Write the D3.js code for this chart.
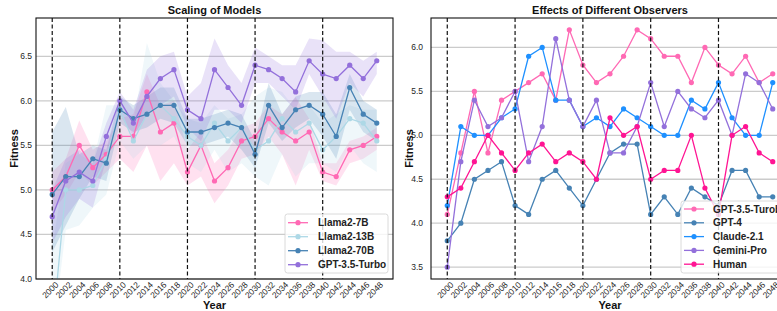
<!DOCTYPE html>
<html>
<head>
<meta charset="utf-8">
<script src="https://cdn.jsdelivr.net/npm/d3@7"></script>
<style>
  html, body { margin: 0; padding: 0; background: #fff; }
  svg { display: block; font-family: "Liberation Sans", Arial, sans-serif; }
</style>
</head>
<body>
<svg id="chart" width="777" height="311"></svg>
<script>
// ---- data ----
const years = d3.range(2000, 2049, 2)
const yearTicks = years
const eraLines = [2000, 2010, 2020, 2030, 2040]

// Scaling of Models
const llama7b = [5.0, 5.15, 5.5, 5.25, 5.4, 5.6, 5.6, 6.1, 5.65, 5.75, 5.2, 5.5, 5.1, 5.25, 5.55, 5.6, 5.8, 5.65, 5.55, 5.65, 5.2, 5.15, 5.45, 5.5, 5.6]
const llama7bLo = [4.75, 4.95, 5.2, 5.05, 5.2, 5.35, 5.2, 5.5, 5.1, 5.3, 5.05, 5.15, 4.85, 5.05, 5.35, 5.4, 5.6, 5.4, 5.05, 5.45, 5.1, 5.05, 5.3, 5.35, 5.45]
const llama7bHi = [5.2, 5.35, 5.78, 5.45, 5.55, 5.8, 5.85, 6.3, 5.95, 6.0, 5.45, 5.65, 5.3, 5.45, 5.7, 5.75, 5.95, 5.85, 6.04, 5.8, 5.3, 5.3, 5.55, 5.6, 5.7]

const llama13b = [3.4, 5.0, 5.0, 5.05, 5.35, 5.9, 5.55, 5.85, 5.95, 5.8, 5.6, 5.5, 5.75, 5.55, 5.7, 5.45, 5.55, 5.8, 5.65, 5.75, 5.45, 5.6, 5.8, 5.75, 5.55]
const llama13bLo = [3.3, 4.55, 4.6, 4.8, 4.95, 5.55, 5.35, 5.5, 5.5, 5.6, 5.3, 5.2, 5.45, 5.2, 5.3, 5.15, 5.05, 5.4, 5.15, 5.3, 5.3, 5.2, 5.5, 5.3, 5.2]
const llama13bHi = [4.35, 5.3, 5.4, 5.3, 5.95, 5.95, 5.75, 6.65, 6.2, 6.0, 5.8, 5.75, 5.95, 5.8, 5.85, 6.05, 6.15, 6.1, 5.9, 5.95, 5.75, 5.85, 5.95, 5.9, 5.9]

const llama70b = [4.95, 5.15, 5.15, 5.35, 5.3, 5.9, 5.8, 5.85, 5.95, 5.95, 5.65, 5.65, 5.7, 5.75, 5.7, 5.4, 5.95, 5.7, 5.9, 5.95, 5.85, 5.6, 6.15, 5.85, 5.75]
const llama70bLo = [4.3, 4.6, 4.9, 5.15, 5.1, 5.75, 5.65, 5.7, 5.8, 5.75, 5.5, 5.5, 5.55, 5.6, 5.45, 5.25, 5.75, 5.55, 5.7, 5.8, 5.6, 5.35, 5.9, 5.65, 5.55]
const llama70bHi = [5.65, 5.93, 5.4, 5.5, 5.45, 6.05, 5.95, 6.05, 6.15, 6.15, 5.8, 5.8, 5.85, 5.9, 5.85, 5.55, 6.2, 5.85, 6.05, 6.1, 6.1, 5.85, 6.3, 6.0, 5.9]

const gpt35 = [4.7, 5.1, 5.2, 5.1, 5.6, 6.0, 5.75, 6.05, 6.25, 6.35, 5.9, 5.8, 6.35, 6.15, 5.95, 6.4, 6.35, 6.25, 6.1, 6.45, 6.3, 6.25, 6.4, 6.25, 6.45]
const gpt35Lo = [4.4, 4.7, 4.9, 4.8, 5.35, 5.85, 5.6, 5.85, 5.95, 6.05, 5.7, 5.55, 5.9, 5.9, 5.75, 6.2, 6.2, 6.05, 5.9, 6.3, 6.05, 5.8, 6.2, 6.05, 6.3]
const gpt35Hi = [5.0, 5.35, 5.45, 5.3, 5.75, 6.1, 5.9, 6.35, 6.5, 6.55, 6.05, 6.2, 6.7, 6.4, 6.2, 6.6, 6.5, 6.4, 6.4, 6.7, 6.68, 6.55, 6.55, 6.45, 6.55]

// Effects of Different Observers
const obsGpt35 = [4.1, 4.8, 5.5, 4.8, 5.4, 5.5, 5.6, 5.7, 5.4, 6.2, 5.8, 5.6, 5.7, 5.9, 6.2, 6.1, 5.9, 5.9, 5.6, 6.0, 5.8, 5.7, 5.9, 5.6, 5.7]
const obsGpt4 = [3.8, 4.0, 4.5, 4.6, 4.7, 4.2, 4.1, 4.5, 4.6, 4.4, 4.2, 4.5, 4.8, 4.9, 4.9, 4.1, 4.3, 4.1, 4.4, 4.3, 4.2, 4.6, 4.6, 4.3, 4.3]
const obsClaude = [4.2, 5.1, 5.0, 5.0, 5.2, 5.3, 5.9, 6.0, 5.4, 5.4, 5.1, 5.2, 5.1, 5.3, 5.2, 5.1, 5.0, 5.0, 5.4, 5.3, 5.6, 5.2, 5.0, 5.0, 5.6]
const obsGemini = [3.5, 4.7, 5.4, 5.1, 5.2, 5.5, 4.7, 5.1, 6.1, 5.4, 5.1, 5.4, 4.8, 4.8, 5.1, 5.6, 5.1, 5.5, 5.3, 5.2, 5.4, 5.0, 5.7, 5.6, 5.3]
const obsHuman = [4.3, 4.4, 4.7, 5.0, 4.8, 4.6, 4.8, 4.9, 4.7, 4.8, 4.7, 4.5, 5.2, 5.0, 5.1, 4.5, 4.6, 4.6, 5.0, 4.4, 4.1, 5.0, 5.1, 4.8, 4.7]

const pink = '#ff69b4', lightblue = '#add8e6', steel = '#4682b4', purple = '#9370db'
const dodger = '#1e90ff', deeppink = '#ff1493'

const FONT = '"Liberation Sans", Arial, sans-serif'
const svg = d3.select('#chart')

function drawPanel(cfg) {
  const x = d3.scaleLinear().domain([1997.6, 2050.4]).range([cfg.left, cfg.right])
  const y = d3.scaleLinear().domain(cfg.yDomain).range([279, 18])
  const g = svg.append('g')

  const clipId = 'clip-' + cfg.id
  svg.append('defs').append('clipPath').attr('id', clipId)
    .append('rect')
    .attr('x', cfg.left).attr('y', 18)
    .attr('width', cfg.right - cfg.left).attr('height', 261)

  // grid
  g.append('g').selectAll('line')
    .data(cfg.yTicks)
    .join('line')
    .attr('x1', cfg.left).attr('x2', cfg.right)
    .attr('y1', d => y(d)).attr('y2', d => y(d))
    .attr('stroke', '#cbcbcb')
    .attr('stroke-width', 1.3)

  const plot = g.append('g').attr('clip-path', `url(#${clipId})`)

  const line = d3.line().x((d, i) => x(years[i])).y(d => y(d))
  const area = d3.area()
    .x((d, i) => x(years[i]))
    .y0(d => y(d[0]))
    .y1(d => y(d[1]))

  cfg.series.forEach(s => {
    if (s.lo) {
      plot.append('path')
        .datum(s.lo.map((v, i) => [v, s.hi[i]]))
        .attr('d', area)
        .attr('fill', s.color)
        .attr('fill-opacity', 0.2)
    }
  })

  cfg.series.forEach(s => {
    plot.append('path')
      .datum(s.values)
      .attr('d', line)
      .attr('fill', 'none')
      .attr('stroke', s.color)
      .attr('stroke-width', 1.3)
    plot.append('g').selectAll('circle')
      .data(s.values)
      .join('circle')
      .attr('cx', (d, i) => x(years[i]))
      .attr('cy', d => y(d))
      .attr('r', 2.6)
      .attr('fill', s.color)
  })

  // era separators
  g.append('g').selectAll('line')
    .data(eraLines)
    .join('line')
    .attr('x1', d => x(d)).attr('x2', d => x(d))
    .attr('y1', 18).attr('y2', 279)
    .attr('stroke', '#111')
    .attr('stroke-width', 1.2)
    .attr('stroke-dasharray', '4,2.5')

  // frame
  g.append('rect')
    .attr('x', cfg.left).attr('y', 18)
    .attr('width', cfg.right - cfg.left).attr('height', 261)
    .attr('fill', 'none')
    .attr('stroke', '#111')
    .attr('stroke-width', 1.1)

  // y tick labels
  g.append('g').selectAll('text')
    .data(cfg.yTicks)
    .join('text')
    .attr('x', cfg.left - cfg.yLabelGap)
    .attr('y', d => y(d))
    .attr('dy', '0.35em')
    .attr('text-anchor', 'end')
    .attr('font-size', 8.5)
    .attr('fill', '#262626')
    .text(d => d.toFixed(1))

  // x tick labels, rotated
  g.append('g').selectAll('text')
    .data(yearTicks)
    .join('text')
    .attr('transform', d => `translate(${x(d) - 2},${290}) rotate(-45)`)
    .attr('text-anchor', 'middle')
    .attr('dy', '0.35em')
    .attr('font-size', 8.5)
    .attr('fill', '#262626')
    .text(d => d)

  // titles
  g.append('text')
    .attr('x', (cfg.left + cfg.right) / 2).attr('y', 14)
    .attr('text-anchor', 'middle')
    .attr('font-size', 11).attr('font-weight', 'bold')
    .attr('fill', '#111')
    .text(cfg.title)

  g.append('text')
    .attr('x', (cfg.left + cfg.right) / 2).attr('y', 309)
    .attr('text-anchor', 'middle')
    .attr('font-size', 11).attr('font-weight', 'bold')
    .attr('fill', '#111')
    .text('Year')

  g.append('text')
    .attr('transform', `translate(${cfg.yTitleX},148.5) rotate(-90)`)
    .attr('text-anchor', 'middle')
    .attr('dy', '0.35em')
    .attr('font-size', 11).attr('font-weight', 'bold')
    .attr('fill', '#111')
    .text('Fitness')

  // legend
  const lg = cfg.legend
  const leg = g.append('g')
  leg.append('rect')
    .attr('x', lg.x).attr('y', lg.y)
    .attr('width', lg.w).attr('height', lg.h)
    .attr('rx', 2.5)
    .attr('fill', '#fff').attr('fill-opacity', 0.8)
    .attr('stroke', '#d0d0d0').attr('stroke-width', 0.8)

  const rows = leg.selectAll('g.row')
    .data(cfg.series)
    .join('g')
    .attr('class', 'row')
    .attr('transform', (d, i) => `translate(${lg.x},${lg.firstRow + i * lg.step})`)
  rows.append('line')
    .attr('x1', lg.hx).attr('x2', lg.hx + 20)
    .attr('stroke', d => d.color).attr('stroke-width', 1.3)
  rows.append('circle')
    .attr('cx', lg.hx + 10).attr('r', 2.6)
    .attr('fill', d => d.color)
  rows.append('text')
    .attr('x', lg.tx)
    .attr('dy', '0.35em')
    .attr('font-size', 10).attr('font-weight', 'bold')
    .attr('fill', '#222')
    .text(d => d.name)
}

drawPanel({
  id: 'scaling',
  left: 36, right: 393,
  yDomain: [4.0, 6.93],
  yTicks: [4.0, 4.5, 5.0, 5.5, 6.0, 6.5],
  yLabelGap: 4,
  yTitleX: 14,
  title: 'Scaling of Models',
  series: [
    { name: 'Llama2-7B', color: pink, values: llama7b, lo: llama7bLo, hi: llama7bHi },
    { name: 'Llama2-13B', color: lightblue, values: llama13b, lo: llama13bLo, hi: llama13bHi },
    { name: 'Llama2-70B', color: steel, values: llama70b, lo: llama70bLo, hi: llama70bHi },
    { name: 'GPT-3.5-Turbo', color: purple, values: gpt35, lo: gpt35Lo, hi: gpt35Hi }
  ],
  legend: { x: 285, y: 214, w: 103, h: 59, firstRow: 222.7, step: 14, hx: 3, tx: 33 }
})

drawPanel({
  id: 'observers',
  left: 431, right: 789,
  yDomain: [3.365, 6.335],
  yTicks: [3.5, 4.0, 4.5, 5.0, 5.5, 6.0],
  yLabelGap: 8,
  yTitleX: 409,
  title: 'Effects of Different Observers',
  series: [
    { name: 'GPT-3.5-Turob', color: pink, values: obsGpt35 },
    { name: 'GPT-4', color: steel, values: obsGpt4 },
    { name: 'Claude-2.1', color: dodger, values: obsClaude },
    { name: 'Gemini-Pro', color: purple, values: obsGemini },
    { name: 'Human', color: deeppink, values: obsHuman }
  ],
  legend: { x: 681, y: 201, w: 103, h: 72, firstRow: 209, step: 13.8, hx: 3, tx: 32 }
})
</script>
</body>
</html>
